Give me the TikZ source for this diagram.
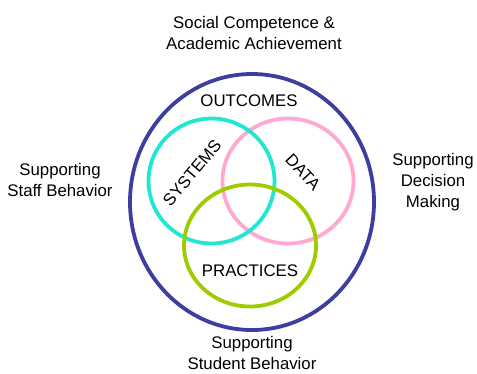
\documentclass[tikz,border=0pt]{standalone}
\usepackage{fontspec}
\setmainfont{Liberation Sans}
\usetikzlibrary{positioning}
\usetikzlibrary{shapes}

\definecolor{navyring}{RGB}{62,62,160}
\definecolor{systemsring}{RGB}{32,232,208}
\definecolor{dataring}{RGB}{255,168,208}
\definecolor{practicesring}{RGB}{158,204,0}

\begin{document}
\begin{tikzpicture}[x=1pt,y=-1pt]

\tikzstyle{every node}=[font=\fontsize{16.8}{21}\selectfont, align=center, inner sep=0pt]
\tikzstyle{ring} = [ellipse, draw, line width=3.8pt]

\useasboundingbox (0,0) rectangle (477,373);

% outer ring and the three circles
\node[ring, draw=navyring, minimum width=244pt, minimum height=256pt] at (252,202) (outcomesring) {};
\node[ring, draw=dataring, minimum width=131pt, minimum height=125pt] at (288,181) (dataring) {};
\node[ring, draw=systemsring, minimum width=126pt, minimum height=125pt] at (211.5,181) (systemsring) {};
\node[ring, draw=practicesring, minimum width=132pt, minimum height=122pt] at (250,245.5) (practicesring) {};

% labels inside
\node at (249,101) (outcomes) {OUTCOMES};
\node[rotate=50] at (192,173) (systems) {SYSTEMS};
\node[rotate=-47] at (303,172) (data) {DATA};
\node at (250,271) (practices) {PRACTICES};

% labels outside
\node at (254,33) (social) {Social Competence \&\\Academic Achievement};
\node at (60,180) (staff) {Supporting\\Staff Behavior};
\node at (433,182) (decision) {Supporting\\Decision\\Making};
\node at (252,353) (student) {Supporting\\Student Behavior};

\end{tikzpicture}
\end{document}
